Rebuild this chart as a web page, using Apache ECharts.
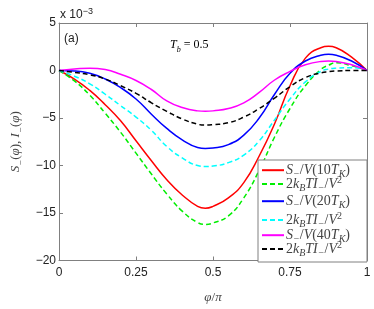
<!DOCTYPE html>
<html>
<head>
<meta charset="utf-8">
<script src="https://cdn.jsdelivr.net/npm/echarts@6/dist/echarts.min.js"></script>
<style>html,body{margin:0;padding:0;background:#fff}#c{width:374px;height:309px}</style>
</head>
<body>
<div id="c"></div>
<script>
// phi / pi grid
var phi = [0,0.05,0.1,0.15,0.2,0.25,0.3,0.35,0.4,0.45,0.475,0.5,0.55,0.6,0.65,0.7,0.75,0.8,0.85,0.875,0.9,0.95,1];
// values in units of 1e-3
var S10 = [0,-0.9,-2.1,-3.6,-5.3,-7.4,-9.5,-11.5,-13.1,-14.3,-14.5,-14.3,-13.4,-11.8,-9.0,-5.6,-1.6,1.3,2.4,2.55,2.4,1.4,0];
var I10 = [0,-1.1,-2.6,-4.5,-6.5,-8.7,-10.9,-13.0,-14.8,-16.0,-16.2,-16.05,-15.3,-13.4,-10.5,-7.0,-4.0,-1.6,0.1,0.55,0.82,0.5,0];
var S20 = [0,-0.05,-0.3,-0.9,-1.8,-3.0,-4.6,-6.1,-7.3,-8.1,-8.2,-8.15,-7.8,-6.8,-5.0,-2.5,-0.3,1.0,1.6,1.7,1.6,1.0,0];
var I20 = [0,-0.6,-1.4,-2.5,-3.7,-4.9,-6.3,-8.0,-9.2,-10.0,-10.1,-10.05,-9.7,-8.9,-7.4,-5.2,-3.0,-1.2,-0.1,0.15,0.25,0.3,0];
var S40 = [0,0.15,0.25,0.1,-0.4,-1.05,-2.0,-3.2,-3.9,-4.25,-4.3,-4.25,-4.0,-3.4,-2.3,-1.0,-0.1,0.6,0.95,1.0,0.95,0.6,0];
var I40 = [0,-0.2,-0.45,-0.9,-1.6,-2.4,-3.4,-4.3,-5.1,-5.65,-5.75,-5.7,-5.5,-4.9,-4.0,-2.9,-1.7,-0.75,-0.25,-0.12,-0.05,0,0];
var xTicks = ['0','0.25','0.5','0.75','1'];
var yTicks = [5,0,-5,-10,-15,-20];

var serif = 'Liberation Serif';
function richSet(fs){
  return {
    i:{fontFamily:serif,fontStyle:'italic',fontSize:fs,color:'#444',lineHeight:18,verticalAlign:'middle'},
    n:{fontFamily:serif,fontSize:fs,color:'#444',lineHeight:18,verticalAlign:'middle'},
    sub:{fontFamily:serif,fontStyle:'italic',fontSize:Math.round(fs*0.7),color:'#444',lineHeight:18,verticalAlign:'bottom'},
    sup:{fontFamily:serif,fontSize:Math.round(fs*0.7),color:'#444',lineHeight:18,verticalAlign:'top'}
  };
}
var richBase = richSet(13);
var richLegend = richSet(14);
var labelS = function(t){return '{i|S}{sub|−}{n|/}{i|V}{n|('+t+'}{i|T}{sub|K}{n|)}';};
var labelI = '{n|2}{i|k}{sub|B}{i|TI}{sub|−}{n|/}{i|V}{sup|2}';
var names = ['S10','I10','S20','I20','S40','I40'];
var labels = {S10:labelS('10'),I10:labelI,S20:labelS('20'),I20:labelI,S40:labelS('40'),I40:labelI};
var colors = ['#ff0000','#00ee00','#0000ff','#00ffff','#ff00ff','#000000'];
var dataSets = [S10,I10,S20,I20,S40,I40];
var legendRowY = [172,184,203,220,237,249];

function pairs(v){return phi.map(function(p,k){return [p,v[k]];});}

var series = names.map(function(n,k){
  var dashed = (k%2===1);
  return {name:n,type:'line',data:pairs(dataSets[k]),smooth:0.5,showSymbol:false,symbol:'none',
    lineStyle:{color:colors[k],width:1.5,type:dashed?[5,3]:'solid'},itemStyle:{color:colors[k]},z:3};
});

var legends = names.map(function(n,k){
  return {data:[n],orient:'vertical',left:261,top:legendRowY[k]-9,
    itemWidth:22,itemHeight:18,padding:0,itemStyle:{opacity:0},
    formatter:function(nm){return labels[nm];},
    textStyle:{rich:richLegend,padding:[0,0,0,-3]},selectedMode:false,z:10};
});

var axisLineStyle = {onZero:false,lineStyle:{color:'#808080',width:1}};
var tickStyle = {show:true,inside:true,length:4,lineStyle:{color:'#808080'}};
var chart = echarts.init(document.getElementById('c'),null,{renderer:'canvas'});
chart.setOption({
  animation:false,
  backgroundColor:'#fff',
  grid:{left:59,right:7,top:23,bottom:44,containLabel:false},
  xAxis:[{type:'value',min:0,max:1,interval:0.25,position:'bottom',
      axisLine:axisLineStyle,axisTick:tickStyle,
      splitLine:{show:false},
      axisLabel:{fontFamily:'Liberation Sans',fontSize:12,color:'#222',margin:6,
        formatter:function(v){var k=Math.round(v/0.25);return xTicks[k];}},
      name:'{i|φ}{n|/}{i|π}',nameLocation:'middle',nameGap:28,
      nameTextStyle:{rich:richBase}},
    {type:'value',min:0,max:1,interval:0.25,position:'top',
      axisLine:axisLineStyle,axisTick:tickStyle,
      axisLabel:{show:false},splitLine:{show:false}}],
  yAxis:[{type:'value',min:-20,max:5,interval:5,position:'left',
      axisLine:{show:true,onZero:false,lineStyle:{color:'#808080',width:1}},axisTick:tickStyle,
      splitLine:{show:false},
      axisLabel:{fontFamily:'Liberation Sans',fontSize:12,color:'#222',margin:3,
        formatter:function(v){return String(v).replace('-','−');}},
      name:'{i|S}{sub|−}{n|(}{i|φ}{n|), }{i|I}{sub|−}{n|(}{i|φ}{n|)}',nameLocation:'middle',nameGap:33,nameRotate:90,
      nameTextStyle:{rich:richBase}},
    {type:'value',min:-20,max:5,interval:5,position:'right',
      axisLine:{show:true,onZero:false,lineStyle:{color:'#808080',width:1}},axisTick:tickStyle,
      axisLabel:{show:false},splitLine:{show:false}}],
  legend:legends,
  graphic:[
    {type:'rect',shape:{x:258,y:160,width:109,height:102},style:{fill:'#fff',stroke:'#808080',lineWidth:1},z:5},
    {type:'text',left:60,top:7,style:{text:'x 10{s|−3}',fontFamily:'Liberation Sans',fontSize:12,fill:'#222',
      rich:{s:{fontSize:9,verticalAlign:'top',lineHeight:16,fontFamily:'Liberation Sans',fill:'#222'}},lineHeight:16,verticalAlign:'bottom'},z:10},
    {type:'text',left:64,top:33,style:{text:'(a)',fontFamily:'Liberation Sans',fontSize:12,fill:'#222'},z:10},
    {type:'text',left:170,top:39,style:{text:'{i|T}{sub|b}{n| = 0.5}',rich:richSet(12)},z:10}
  ],
  series:series
});
</script>
</body>
</html>
